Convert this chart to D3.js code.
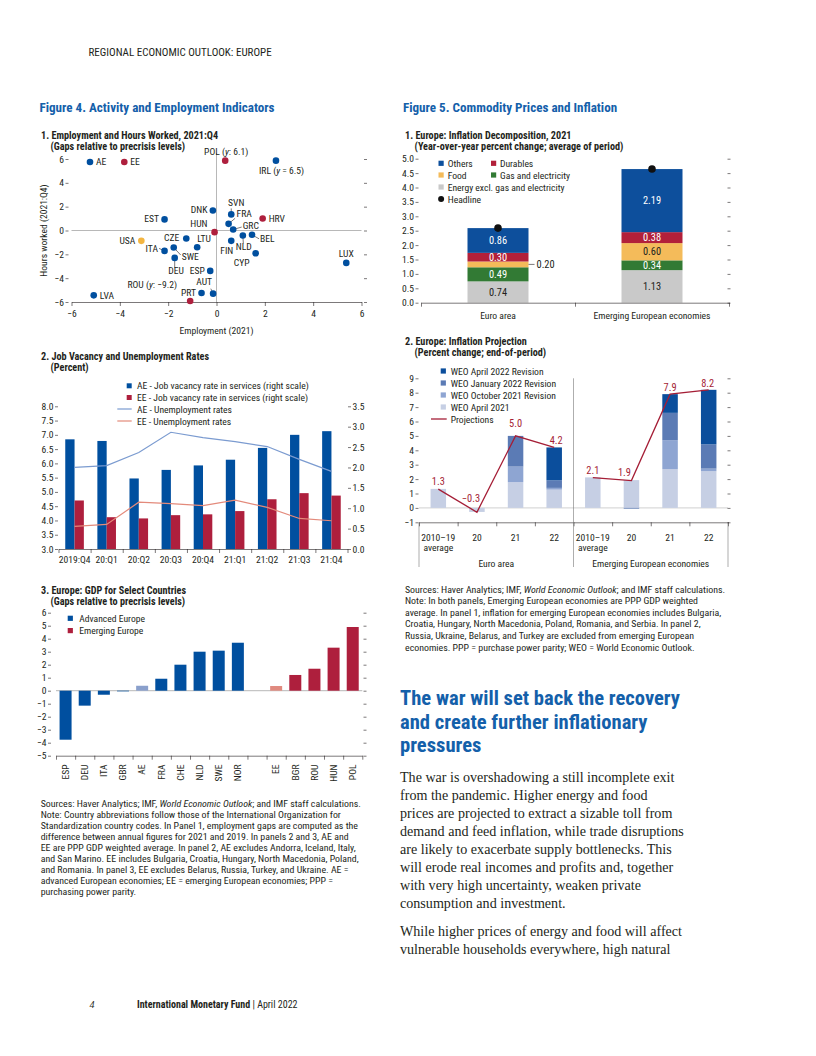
<!DOCTYPE html>
<html><head><meta charset="utf-8">
<script src="https://cdn.jsdelivr.net/npm/d3@7"></script>
<style>body{margin:0;background:#fff}svg{display:block}</style>
</head><body>
<svg id="page" width="816" height="1056"></svg>
<script>
// ================= DATA =================
// Figure 4, panel 1: employment (x) and hours worked (y) gaps
const scCodes  = ["POL","IRL","SVN","DNK","EST","HRV","FRA","GRC","HUN","USA","CZE","NLD","BEL","FIN","LTU","ITA","SWE","DEU","CYP","LUX","ESP","AUT","PRT","ROU","LVA"];
const scGroup  = ["EE","AE","AE","AE","AE","EE","AE","AE","EE","USA","AE","AE","AE","AE","AE","AE","AE","AE","AE","AE","AE","AE","AE","EE","AE"];
const scEmp    = [0.36,2.46,0.61,-0.15,-2.15,1.91,0.50,0.69,-0.08,-3.11,-1.25,1.09,1.47,0.61,-0.80,-2.15,-1.77,-1.73,1.62,5.37,-0.26,-0.14,-0.62,-1.09,-5.08];
const scHours  = [5.86,5.86,1.35,1.68,0.93,1.01,0.56,0.08,-0.14,-0.87,-0.67,-0.42,-0.36,-0.87,-1.40,-1.71,-1.43,-2.30,-1.91,-2.72,-3.39,-5.30,-5.24,-5.92,-5.44];
const scLabels = ["POL (y: 6.1)","IRL (y = 6.5)","SVN","DNK","EST","HRV","FRA","GRC","HUN","USA","CZE","NLD","BEL","FIN","LTU","ITA","SWE","DEU","CYP","LUX","ESP","AUT","PRT","ROU (y: −9.2)","LVA"];
const scTicks  = [-6,-4,-2,0,2,4,6];

// Figure 4, panel 2: job vacancy (right scale) and unemployment (left scale)
const jvQuarters = ["2019:Q4","20:Q1","20:Q2","20:Q3","20:Q4","21:Q1","21:Q2","21:Q3","21:Q4"];
const jvAE = [2.69,2.65,1.73,1.94,2.05,2.19,2.48,2.80,2.89];
const jvEE = [1.19,0.78,0.75,0.83,0.85,0.93,1.22,1.37,1.31];
const urAE = [5.86,5.92,6.38,7.09,6.90,6.76,6.59,6.14,5.72];
const urEE = [3.79,3.86,4.64,4.59,4.52,4.71,4.46,4.07,3.99];
const jvLeftTicks  = [3,3.5,4,4.5,5,5.5,6,6.5,7,7.5,8];
const jvRightTicks = [0,0.5,1,1.5,2,2.5,3,3.5];

// Figure 4, panel 3: GDP gaps
const gdpCountries = ["ESP","DEU","ITA","GBR","AE","FRA","CHE","NLD","SWE","NOR","gap","EE","BGR","ROU","HUN","POL"];
const gdpGroup     = ["adv","adv","adv","adv","advAvg","adv","adv","adv","adv","adv","none","emgAvg","emg","emg","emg","emg"];
const gdpGaps      = [-3.77,-1.15,-0.31,-0.05,0.38,0.92,2.00,3.00,3.08,3.69,0,0.36,1.21,1.69,3.31,4.90];
const gdpTicks     = [-5,-4,-3,-2,-1,0,1,2,3,4,5,6];

// Figure 5, panel 1: inflation decomposition
const infRegions  = ["Euro area","Emerging European economies"];
const infEnergy   = [0.74,1.13];
const infGas      = [0.49,0.34];
const infFood     = [0.20,0.60];
const infDurables = [0.30,0.38];
const infOthers   = [0.86,2.19];
const infHeadline = [2.59,4.64];
const infTicks    = [0,0.5,1,1.5,2,2.5,3,3.5,4,4.5,5];

// Figure 5, panel 2: inflation projection
const projGroups = ["Euro area","Emerging European economies"];
const projYears  = ["2010–19|average","20","21","22","2010–19|average","20","21","22"];
const projApr21  = [1.32,-0.28,1.79,1.27, 2.12,1.93,2.69,2.55];
const projOct21  = [0,0,1.08,0.12, 0,0,2.01,0.18];
const projJan22  = [0,0,2.13,0.53, 0,-0.05,1.90,1.69];
const projApr22  = [0,0,0,2.28, 0,0,1.30,3.78];
const projLine   = [1.3,-0.3,5.0,4.2, 2.1,1.9,7.9,8.2];
const projTicks  = [-1,0,1,2,3,4,5,6,7,8,9];

// ================= STYLE =================
const SANS  = "'Liberation Sans Narrow','Arial Narrow','Roboto Condensed','DejaVu Sans Condensed',sans-serif";
const SERIF = "'Liberation Serif','DejaVu Serif',serif";
const INK = "#231f20";
const C = {ae:"#004f9f", ee:"#ae1f3d", usa:"#f3b541", aeLight:"#8aa0cc", eeLight:"#e08a7f",
  aeLine:"#7b9bd0", eeLine:"#e38a7b", title:"#1460aa",
  others:"#0d4f9c", durables:"#b2203a", food:"#f4bb5a", gas:"#327a34", energy:"#c9c9c9",
  apr21:"#c6cfe4", oct21:"#8ea5d2", jan22:"#5b7bb5", apr22:"#0b4e9c", proj:"#a51e36", zero:"#9a9a9a"};
const FS = 9.6;

const svg = d3.select("#page");
function txt(g, x, y, s, o = {}) {
  const t = g.append("text").attr("x", x).attr("y", y)
    .attr("font-family", o.family || SANS).attr("font-size", o.size || FS)
    .attr("fill", o.fill || INK).attr("text-anchor", o.anchor || "start");
  if (o.weight) t.attr("font-weight", o.weight);
  if (o.style) t.attr("font-style", o.style);
  if (s !== null) t.text(s);
  return t;
}
function fit(t, w) { const n = t.node(); if (n.getComputedTextLength() > w) t.attr("textLength", w).attr("lengthAdjust", "spacingAndGlyphs"); return t; }
function styleAxis(g) {
  g.attr("font-family", SANS).attr("font-size", FS).attr("color", INK);
  g.selectAll("line,path").attr("stroke-width", 0.6);
  return g;
}
function leftAxis(g, y, x0, ticks, fmt) {
  styleAxis(g.append("g").attr("transform", `translate(${x0},0)`)
    .call(d3.axisLeft(y).tickValues(ticks).tickFormat(fmt).tickSize(3).tickPadding(1.5)))
    .call(a => a.select(".domain").remove());
}
function rightAxis(g, y, x0, ticks, fmt) {
  styleAxis(g.append("g").attr("transform", `translate(${x0},0)`)
    .call(d3.axisRight(y).tickValues(ticks).tickFormat(fmt || (() => "")).tickSize(3).tickPadding(1.5)))
    .call(a => a.select(".domain").remove());
}
function boundaryAxis(g, n, x0, x1, yPos) {
  const lin = d3.scaleLinear().domain([0, n]).range([x0, x1]);
  styleAxis(g.append("g").attr("transform", `translate(0,${yPos})`)
    .call(d3.axisBottom(lin).tickValues(d3.range(0, n + 1)).tickFormat("").tickSize(4).tickSizeOuter(0)));
}
const f1 = d3.format(".1f");

// ================= PAGE TEXT =================
txt(svg, 88.5, 56, "REGIONAL ECONOMIC OUTLOOK: EUROPE", {size: 11});
txt(svg, 39.5, 111.5, "Figure 4. Activity and Employment Indicators", {size: 13.1, weight: "bold", fill: C.title});
txt(svg, 403, 111.5, "Figure 5. Commodity Prices and Inflation", {size: 13.1, weight: "bold", fill: C.title});
txt(svg, 89.5, 1008, "4", {size: 10, style: "italic", family: SERIF});
const foot = txt(svg, 137, 1008, null, {size: 10});
foot.append("tspan").attr("font-weight", "bold").text("International Monetary Fund");
foot.append("tspan").text(" | April 2022");

function panelTitle(x, y, a, b) {
  txt(svg, x, y, a, {weight: "bold", size: 10.2});
  txt(svg, x + 9.5, y + 11.3, b, {weight: "bold", size: 10.2});
}

// ================= FIG 4.1 SCATTER =================
{
  const g = svg.append("g");
  panelTitle(41, 139, "1. Employment and Hours Worked, 2021:Q4", "(Gaps relative to precrisis levels)");
  const x = d3.scaleLinear().domain([-6, 6]).range([71.5, 361.5]);
  const y = d3.scaleLinear().domain([-6, 6]).range([302, 159]);
  g.append("line").attr("x1", x(-6)).attr("x2", x(6)).attr("y1", y(0)).attr("y2", y(0)).attr("stroke", C.zero).attr("stroke-width", 0.7);
  g.append("line").attr("x1", x(0)).attr("x2", x(0)).attr("y1", y(-6)).attr("y2", y(6) - 6).attr("stroke", C.zero).attr("stroke-width", 0.7);
  styleAxis(g.append("g").attr("transform", `translate(0,${y(-6)})`)
    .call(d3.axisBottom(x).tickValues(scTicks).tickSize(4).tickSizeOuter(0).tickPadding(4.5)));
  leftAxis(g, y, 68.5, scTicks, d3.format("d"));
  rightAxis(g, y, 364, scTicks);
  txt(g, (x(-6) + x(6)) / 2, 334, "Employment (2021)", {anchor: "middle"});
  txt(g, 0, 0, "Hours worked (2021:Q4)", {anchor: "middle"}).attr("transform", `translate(46.5,${y(0)}) rotate(-90)`);
  // legend
  [["AE", C.ae, 90], ["EE", C.ee, 124.3]].forEach(([l, c, lx]) => {
    g.append("circle").attr("cx", lx).attr("cy", y(5.75)).attr("r", 3.3).attr("fill", c);
    txt(g, lx + 6, y(5.75) + 3.3, l);
  });
  // label placement: [dx, dy, anchor, leaderX, leaderY]
  const place = {
    POL:[1,-5.5,"middle"], IRL:[-17,13.5,"start"], SVN:[5,-8.5,"middle",0,-6], DNK:[-5.5,3,"end"], EST:[-5.5,3,"end"],
    HRV:[6,3.3,"start"], FRA:[8,-6.5,"start",6.5,-5.5], GRC:[9.5,-0.5,"start",8.5,-2.5], HUN:[-7,-5.5,"end"], USA:[-6,2.8,"end"],
    CZE:[-7,2.3,"end"], NLD:[1,14,"middle",0.5,8], BEL:[8,6.8,"start",7,4], FIN:[2,13,"end"], LTU:[0,-5,"start"],
    ITA:[-6.5,0.8,"end",-5.5,-2.5], SWE:[8,12.5,"start",7,7.5], DEU:[1.5,16,"middle",0,10], CYP:[-6,13,"end"],
    LUX:[0,-6,"middle"], ESP:[-5.5,3.2,"end"], AUT:[-1,-9,"end",-2.3,-5], PRT:[-5.5,3.2,"end"], ROU:[-13,-13,"end"], LVA:[6,3.3,"start"]
  };
  const col = k => k === "EE" ? C.ee : k === "USA" ? C.usa : C.ae;
  scCodes.forEach((code, i) => {
    const px = x(scEmp[i]), py = y(scHours[i]);
    const p = place[code];
    if (p.length > 3) g.append("line").attr("x1", px).attr("y1", py).attr("x2", px + p[3]).attr("y2", py + p[4]).attr("stroke", INK).attr("stroke-width", 0.6);
  });
  g.selectAll("circle.pt").data(scCodes).join("circle").attr("class", "pt")
    .attr("cx", (d, i) => x(scEmp[i])).attr("cy", (d, i) => y(scHours[i])).attr("r", 3.3)
    .attr("fill", (d, i) => col(scGroup[i]));
  scCodes.forEach((code, i) => {
    const p = place[code];
    const t = txt(g, x(scEmp[i]) + p[0], y(scHours[i]) + p[1], null, {anchor: p[2]});
    const parts = scLabels[i].split("y");
    if (parts.length === 2) { t.append("tspan").text(parts[0]); t.append("tspan").attr("font-style", "italic").text("y"); t.append("tspan").text(parts[1]); }
    else t.text(scLabels[i]);
  });
}

// ================= FIG 4.2 JOB VACANCY =================
{
  const g = svg.append("g");
  panelTitle(41, 360, "2. Job Vacancy and Unemployment Rates", "(Percent)");
  const x = d3.scaleBand().domain(jvQuarters).range([58.5, 347.5]);
  const yL = d3.scaleLinear().domain([3, 8]).range([549, 406.3]);
  const yR = d3.scaleLinear().domain([0, 3.5]).range([549, 406.3]);
  const bw = 9.3, cx = q => x(q) + x.bandwidth() / 2;
  g.selectAll("rect.ae").data(jvQuarters).join("rect").attr("x", d => cx(d) - bw).attr("width", bw)
    .attr("y", (d, i) => yR(jvAE[i])).attr("height", (d, i) => yR(0) - yR(jvAE[i])).attr("fill", C.ae);
  g.selectAll("rect.ee").data(jvQuarters).join("rect").attr("x", d => cx(d)).attr("width", bw)
    .attr("y", (d, i) => yR(jvEE[i])).attr("height", (d, i) => yR(0) - yR(jvEE[i])).attr("fill", C.ee);
  const line = d3.line().x((d, i) => cx(jvQuarters[i])).y(d => yL(d));
  g.append("path").attr("d", line(urAE)).attr("fill", "none").attr("stroke", C.aeLine).attr("stroke-width", 1.2);
  g.append("path").attr("d", line(urEE)).attr("fill", "none").attr("stroke", C.eeLine).attr("stroke-width", 1.2);
  boundaryAxis(g, jvQuarters.length, 58.5, 347.5, 549);
  styleAxis(g.append("g").attr("transform", "translate(0,549)")
    .call(d3.axisBottom(x).tickSize(0).tickPadding(7.5))).call(a => a.select(".domain").remove());
  leftAxis(g, yL, 58, jvLeftTicks, f1);
  rightAxis(g, yR, 348, jvRightTicks, f1);
  // legend
  const lx = 137;
  g.append("rect").attr("x", 126.7).attr("y", 383.3).attr("width", 5).attr("height", 5).attr("fill", C.ae);
  txt(g, lx, 389.3, "AE - Job vacancy rate in services (right scale)");
  g.append("rect").attr("x", 126.7).attr("y", 395).attr("width", 5).attr("height", 5).attr("fill", C.ee);
  txt(g, lx, 401, "EE - Job vacancy rate in services (right scale)");
  g.append("line").attr("x1", 117.3).attr("x2", 131.7).attr("y1", 409).attr("y2", 409).attr("stroke", C.aeLine).attr("stroke-width", 1.2);
  txt(g, lx, 412.5, "AE - Unemployment rates");
  g.append("line").attr("x1", 117.3).attr("x2", 131.7).attr("y1", 421).attr("y2", 421).attr("stroke", C.eeLine).attr("stroke-width", 1.2);
  txt(g, lx, 424.5, "EE - Unemployment rates");
}

// ================= FIG 4.3 GDP =================
{
  const g = svg.append("g");
  panelTitle(41, 593.5, "3. Europe: GDP for Select Countries", "(Gaps relative to precrisis levels)");
  const x = d3.scaleBand().domain(gdpCountries).range([56, 362.3]);
  const y = d3.scaleLinear().domain([-5, 6]).range([755.7, 612.7]);
  const bw = 12, colr = { adv: C.ae, advAvg: C.aeLight, emg: C.ee, emgAvg: C.eeLight, none: "none" };
  g.append("line").attr("x1", 56).attr("x2", 362.3).attr("y1", y(0)).attr("y2", y(0)).attr("stroke", C.zero).attr("stroke-width", 0.7);
  g.selectAll("rect.b").data(gdpCountries).join("rect")
    .attr("x", d => x(d) + (x.bandwidth() - bw) / 2).attr("width", bw)
    .attr("y", (d, i) => y(Math.max(0, gdpGaps[i]))).attr("height", (d, i) => Math.abs(y(gdpGaps[i]) - y(0)))
    .attr("fill", (d, i) => colr[gdpGroup[i]]);
  boundaryAxis(g, gdpCountries.length, 56, 362.3, 755.7);
  gdpCountries.forEach(c => {
    if (c === "gap") return;
    txt(g, 0, 0, c, {anchor: "end"}).attr("transform", `translate(${x(c) + x.bandwidth() / 2 + 3.3},764.5) rotate(-90)`);
  });
  leftAxis(g, y, 51, gdpTicks, d3.format("d"));
  rightAxis(g, y, 363.5, gdpTicks);
  g.append("rect").attr("x", 67.7).attr("y", 615.7).attr("width", 5.2).attr("height", 5.2).attr("fill", C.ae);
  txt(g, 79.3, 621.6, "Advanced Europe");
  g.append("rect").attr("x", 67.7).attr("y", 628).attr("width", 5.2).attr("height", 5.2).attr("fill", C.ee);
  txt(g, 79.3, 633.9, "Emerging Europe");
}

// ================= FIG 4 NOTES =================
{
  const lines = [
    null,
    "Note: Country abbreviations follow those of the International Organization for",
    "Standardization country codes. In Panel 1, employment gaps are computed as the",
    "difference between annual figures for 2021 and 2019. In panels 2 and 3, AE and",
    "EE are PPP GDP weighted average. In panel 2, AE excludes Andorra, Iceland, Italy,",
    "and San Marino. EE includes Bulgaria, Croatia, Hungary, North Macedonia, Poland,",
    "and Romania. In panel 3, EE excludes Belarus, Russia, Turkey, and Ukraine. AE =",
    "advanced European economies; EE = emerging European economies; PPP =",
    "purchasing power parity."];
  lines.forEach((l, i) => {
    const t = txt(svg, 40.7, 806.5 + i * 11.1, null, {size: 9.9});
    if (l === null) { t.append("tspan").text("Sources: Haver Analytics; IMF, "); t.append("tspan").attr("font-style", "italic").text("World Economic Outlook"); t.append("tspan").text("; and IMF staff calculations."); }
    else t.text(l);
    fit(t, 325);
  });
}

// ================= FIG 5.1 INFLATION DECOMPOSITION =================
{
  const g = svg.append("g");
  panelTitle(405, 138.5, "1. Europe: Inflation Decomposition, 2021", "(Year-over-year percent change; average of period)");
  const x = d3.scaleBand().domain(infRegions).range([421, 729]);
  const y = d3.scaleLinear().domain([0, 5]).range([302.7, 158.7]);
  const keys = ["energy", "gas", "food", "durables", "others"];
  const rows = infRegions.map((r, i) => ({ region: r, energy: infEnergy[i], gas: infGas[i], food: infFood[i], durables: infDurables[i], others: infOthers[i] }));
  const stack = d3.stack().keys(keys)(rows);
  const bw = 61, labelCol = { energy: INK, gas: "#fff", food: INK, durables: "#fff", others: "#fff" };
  stack.forEach(layer => {
    layer.forEach(seg => {
      const r = seg.data.region, bx = x(r) + (x.bandwidth() - bw) / 2;
      g.append("rect").attr("x", bx).attr("width", bw).attr("y", y(seg[1])).attr("height", y(seg[0]) - y(seg[1])).attr("fill", C[layer.key]);
      const v = seg[1] - seg[0], ym = (y(seg[0]) + y(seg[1])) / 2 + 3.6;
      if (v < 0.25) {
        g.append("line").attr("x1", bx + bw).attr("x2", bx + bw + 6).attr("y1", ym - 3.6).attr("y2", ym - 3.6).attr("stroke", INK).attr("stroke-width", 0.6);
        txt(g, bx + bw + 8, ym, d3.format(".2f")(v), {size: 10.4});
      } else txt(g, bx + bw / 2, ym, d3.format(".2f")(v), {anchor: "middle", fill: labelCol[layer.key], size: 10.4});
    });
  });
  g.selectAll("circle.h").data(infRegions).join("circle").attr("cx", d => x(d) + x.bandwidth() / 2)
    .attr("cy", (d, i) => y(infHeadline[i])).attr("r", 3.8).attr("fill", "#111");
  boundaryAxis(g, infRegions.length, 421, 729, 302.7);
  styleAxis(g.append("g").attr("transform", "translate(0,302.7)")
    .call(d3.axisBottom(x).tickSize(0).tickPadding(9))).call(a => a.select(".domain").remove());
  leftAxis(g, y, 418.5, infTicks, f1);
  rightAxis(g, y, 727.5, infTicks);
  // legend
  const sq = (lx, ly, c) => g.append("rect").attr("x", lx).attr("y", ly - 2.6).attr("width", 5.2).attr("height", 5.2).attr("fill", c);
  sq(438.5, 163.3, C.others); txt(g, 447.7, 166.8, "Others");
  sq(491, 163.3, C.durables); txt(g, 500, 166.8, "Durables");
  sq(438.5, 175, C.food); txt(g, 447.7, 178.5, "Food");
  sq(491, 175, C.gas); txt(g, 500, 178.5, "Gas and electricity");
  sq(438.5, 187, C.energy); txt(g, 447.7, 190.5, "Energy excl. gas and electricity");
  g.append("circle").attr("cx", 441.1).attr("cy", 199).attr("r", 3).attr("fill", "#111"); txt(g, 447.7, 202.5, "Headline");
}

// ================= FIG 5.2 INFLATION PROJECTION =================
{
  const g = svg.append("g");
  panelTitle(405, 345, "2. Europe: Inflation Projection", "(Percent change; end-of-period)");
  const ids = d3.range(projYears.length);
  const x = d3.scaleBand().domain(ids).range([419, 728]);
  const y = d3.scaleLinear().domain([-1, 9]).range([522.3, 378.3]);
  const keys = ["apr21", "oct21", "jan22", "apr22"];
  const rows = ids.map(i => ({ id: i, apr21: projApr21[i], oct21: projOct21[i], jan22: projJan22[i], apr22: projApr22[i] }));
  const stack = d3.stack().keys(keys).offset(d3.stackOffsetDiverging)(rows);
  const bw = 15.5, cx = i => x(i) + x.bandwidth() / 2;
  g.append("line").attr("x1", 419).attr("x2", 728).attr("y1", y(0)).attr("y2", y(0)).attr("stroke", "#c4c4c4").attr("stroke-width", 0.8);
  stack.forEach(layer => {
    g.selectAll(null).data(layer.filter(s => s[1] !== s[0])).join("rect")
      .attr("x", s => cx(s.data.id) - bw / 2).attr("width", bw)
      .attr("y", s => y(Math.max(s[0], s[1]))).attr("height", s => Math.abs(y(s[0]) - y(s[1])))
      .attr("fill", C[layer.key]);
  });
  const line = d3.line().x(i => cx(i)).y(i => y(projLine[i]));
  [[0, 1, 2, 3], [4, 5, 6, 7]].forEach(seg => g.append("path").attr("d", line(seg)).attr("fill", "none").attr("stroke", C.proj).attr("stroke-width", 1.3));
  const lo = [[0, -4], [-6, -10.5], [0, -8.5], [2, -3.5], [0, -3.5], [-7, -5], [0, -3.5], [-1, -2.5]];
  ids.forEach(i => txt(g, cx(i) + lo[i][0], y(projLine[i]) + lo[i][1], (projLine[i] < 0 ? "−" : "") + f1(Math.abs(projLine[i])), {anchor: "middle", fill: C.proj, size: 10.4}));
  boundaryAxis(g, ids.length, 419, 728, 522.3);
  // group separators
  [[419, 522.3], [573.5, 378.3], [728, 522.3]].forEach(([lx, top]) =>
    g.append("line").attr("x1", lx).attr("x2", lx).attr("y1", top).attr("y2", 567).attr("stroke", "#777").attr("stroke-width", 0.6));
  ids.forEach(i => {
    const parts = projYears[i].split("|");
    parts.forEach((p, k) => txt(g, cx(i), 540.5 + k * 10.5, p, {anchor: "middle"}));
  });
  projGroups.forEach((p, k) => txt(g, (x(k * 4) + x(k * 4 + 3) + x.bandwidth()) / 2, 566.5, p, {anchor: "middle"}));
  leftAxis(g, y, 418.5, projTicks, d3.format("d"));
  rightAxis(g, y, 727.5, projTicks);
  const leg = [["WEO April 2022 Revision", C.apr22], ["WEO January 2022 Revision", C.jan22], ["WEO October 2021 Revision", C.oct21], ["WEO April 2021", C.apr21]];
  leg.forEach(([l, c], k) => {
    const ly = 371 + k * 12;
    g.append("rect").attr("x", 440.7).attr("y", ly - 2.6).attr("width", 5.2).attr("height", 5.2).attr("fill", c);
    txt(g, 450.7, ly + 3.5, l);
  });
  g.append("line").attr("x1", 431).attr("x2", 446.7).attr("y1", 419).attr("y2", 419).attr("stroke", C.proj).attr("stroke-width", 1.3);
  txt(g, 450.7, 422.5, "Projections");
}

// ================= FIG 5 NOTES + BODY =================
{
  const lines = [
    null,
    "Note: In both panels, Emerging European economies are PPP GDP weighted",
    "average. In panel 1, inflation for emerging European economies includes Bulgaria,",
    "Croatia, Hungary, North Macedonia, Poland, Romania, and Serbia. In panel 2,",
    "Russia, Ukraine, Belarus, and Turkey are excluded from emerging European",
    "economies. PPP = purchase power parity; WEO = World Economic Outlook."];
  lines.forEach((l, i) => {
    const t = txt(svg, 405, 592.5 + i * 11.6, null, {size: 9.9});
    if (l === null) { t.append("tspan").text("Sources: Haver Analytics; IMF, "); t.append("tspan").attr("font-style", "italic").text("World Economic Outlook"); t.append("tspan").text("; and IMF staff calculations."); }
    else t.text(l);
    fit(t, 324);
  });
  ["The war will set back the recovery", "and create further inflationary", "pressures"].forEach((l, i) =>
    fit(txt(svg, 400, 705 + i * 23.5, l, {size: 20.6, weight: "bold", fill: C.title}), 283));
  const body = [
    "The war is overshadowing a still incomplete exit",
    "from the pandemic. Higher energy and food",
    "prices are projected to extract a sizable toll from",
    "demand and feed inflation, while trade disruptions",
    "are likely to exacerbate supply bottlenecks. This",
    "will erode real incomes and profits and, together",
    "with very high uncertainty, weaken private",
    "consumption and investment."];
  body.forEach((l, i) => fit(txt(svg, 400, 781.7 + i * 18, l, {family: SERIF, size: 14.1}), 288));
  ["While higher prices of energy and food will affect", "vulnerable households everywhere, high natural"].forEach((l, i) =>
    fit(txt(svg, 400, 935.7 + i * 18, l, {family: SERIF, size: 14.1}), 285));
}
</script>
</body></html>
